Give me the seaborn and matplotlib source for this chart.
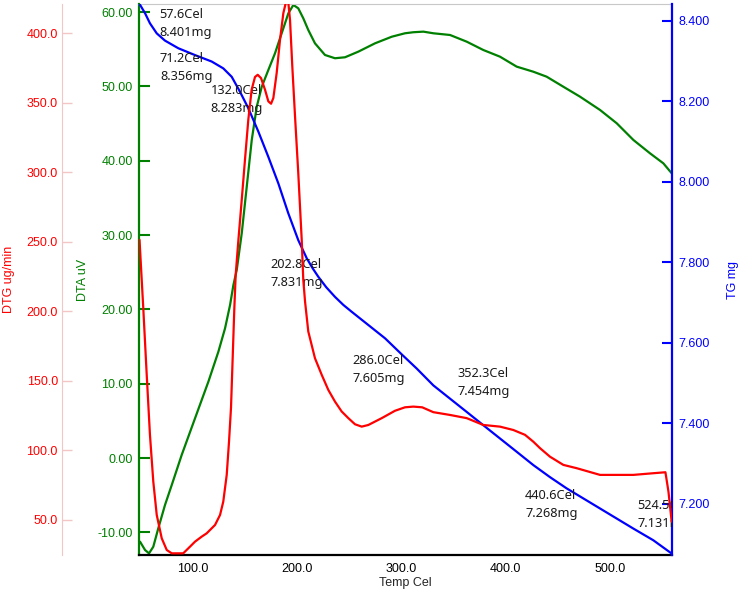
import matplotlib
matplotlib.use("Agg")
import matplotlib.pyplot as plt
from matplotlib.ticker import FormatStrFormatter, FixedLocator
import pandas as pd
import seaborn as sns

# DTA trace (uV)
dta_temp = [49.5, 54.3, 58.1, 62.2, 67.0, 73.4, 79.9, 89.4, 102.2, 115.0,
            124.6, 131.0, 135.8, 139.0, 142.2, 147.0, 151.8, 156.6, 161.4,
            166.2, 172.5, 178.9, 185.3, 191.7, 196.5, 201.2, 206.0, 210.8,
            217.2, 226.8, 236.4, 246.0, 258.8, 274.8, 290.9, 303.5, 311.5,
            321.1, 330.7, 346.7, 362.7, 378.6, 394.6, 410.6, 426.5, 439.3,
            455.3, 471.3, 490.5, 506.5, 522.5, 538.4, 551.2, 559.2]
dta_uv = [-11.26, -12.38, -12.83, -11.94, -9.46, -6.33, -3.63, 0.40, 5.34, 10.27,
          14.31, 17.46, 20.59, 23.28, 25.30, 30.24, 36.52, 42.80, 47.28,
          49.97, 52.22, 54.47, 57.16, 59.85, 60.97, 60.52, 59.18, 57.60,
          55.81, 54.24, 53.80, 53.93, 54.69, 55.81, 56.70, 57.16, 57.30,
          57.38, 57.16, 56.93, 56.03, 54.91, 54.01, 52.67, 51.99, 51.32,
          49.97, 48.63, 46.84, 45.05, 42.80, 41.01, 39.66, 38.32]

# TG trace (mg)
tg_temp = [49.5, 54.3, 59.0, 65.5, 73.4, 86.2, 102.2, 118.2, 129.3, 137.4,
           145.3, 153.3, 162.9, 172.5, 182.1, 191.6, 201.2, 209.3, 215.0,
           220.4, 228.0, 236.4, 244.4, 252.4, 268.4, 284.4, 300.0, 314.7,
           330.7, 346.7, 362.7, 378.6, 394.6, 410.6, 426.5, 442.5, 458.5,
           474.5, 490.5, 506.5, 522.5, 541.6, 559.2]
tg_mg = [8.440, 8.419, 8.394, 8.369, 8.351, 8.332, 8.315, 8.299, 8.282, 8.261,
         8.224, 8.183, 8.125, 8.062, 7.996, 7.922, 7.855, 7.810, 7.785,
         7.764, 7.738, 7.714, 7.694, 7.677, 7.644, 7.611, 7.572, 7.536,
         7.494, 7.461, 7.428, 7.395, 7.362, 7.329, 7.296, 7.266, 7.238,
         7.213, 7.188, 7.163, 7.138, 7.109, 7.076]

# DTG trace (ug/min)
dtg_temp = [49.0, 52.6, 55.9, 59.0, 62.2, 65.5, 70.3, 75.1, 79.9, 90.9,
            97.4, 102.2, 108.6, 113.4, 121.4, 126.2, 129.3, 132.6, 134.8,
            136.7, 138.3, 139.9, 141.2, 143.8, 147.0, 150.1, 153.3, 156.5,
            159.7, 162.3, 165.5, 169.3, 172.5, 175.1, 177.3, 180.5, 183.7,
            186.9, 189.2, 189.9, 191.7, 193.3, 195.5, 198.1, 201.2, 204.5,
            206.0, 207.7, 210.8, 217.2, 223.7, 230.0, 236.4, 242.8, 249.2,
            255.6, 262.0, 268.4, 281.2, 293.9, 303.5, 311.5, 320.0, 330.7,
            346.7, 362.7, 378.6, 394.6, 407.3, 418.6, 426.5, 433.0, 442.5,
            455.3, 468.2, 490.5, 522.4, 541.6, 553.2, 556.1, 559.2]
dtg_val = [251.4, 202.3, 154.3, 111.2, 77.6, 53.6, 36.8, 28.4, 26.0, 26.0,
           30.8, 34.4, 38.0, 40.4, 46.4, 53.6, 63.2, 82.4, 106.3,
           130.6, 166.3, 202.3, 226.3, 251.4, 280.2, 309.0, 337.8, 359.4,
           368.5, 370.1, 367.7, 359.4, 351.0, 349.3, 353.4, 371.4, 395.3,
           414.5, 421.7, 424.0, 421.7, 409.4, 375.8, 340.1, 299.4, 251.4,
           222.7, 207.0, 185.5, 166.3, 154.3, 143.5, 135.1, 128.0, 123.2,
           118.8, 117.1, 118.3, 123.2, 128.5, 131.0, 131.5, 131.0, 127.5,
           125.5, 123.2, 118.3, 117.1, 114.7, 111.2, 106.3, 101.6, 95.5,
           89.6, 87.2, 82.4, 82.4, 83.6, 84.3, 70.4, 48.8]

# labelled TG points
mark_temp = [57.6, 71.2, 132.0, 202.8, 286.0, 352.3, 440.6, 524.5]
mark_mg = [8.401, 8.356, 8.283, 7.831, 7.605, 7.454, 7.268, 7.131]
# label offsets from the point (points)
mark_off = [(8, -2), (-2, -21), (-11, -23), (-21, -17), (-25, -21),
            (1, 13.5), (-16.5, -20), (1.5, 12)]

x_ticks = [100, 200, 300, 400, 500]
dta_ticks = [-10, 0, 10, 20, 30, 40, 50, 60]
tg_ticks = [7.2, 7.4, 7.6, 7.8, 8.0, 8.2, 8.4]
dtg_ticks = [50, 100, 150, 200, 250, 300, 350, 400]

GREEN = "#008000"
BLUE = "#0000ff"
RED = "#ff0000"
PINK = "#f2c6c6"

sns.set_style("white")
plt.rcParams["font.family"] = ["Liberation Sans", "DejaVu Sans"]
plt.rcParams["font.size"] = 9

fig = plt.figure(figsize=(7.39, 5.93), dpi=100)
ax = fig.add_axes([139 / 739, 1 - 555 / 593, 533 / 739, 551 / 593])
ax_tg = ax.twinx()
ax_dtg = ax.twinx()

dta = pd.DataFrame({"temp": dta_temp, "uv": dta_uv})
tg = pd.DataFrame({"temp": tg_temp, "mg": tg_mg})
dtg = pd.DataFrame({"temp": dtg_temp, "val": dtg_val})

sns.lineplot(data=dta, x="temp", y="uv", ax=ax, color=GREEN, linewidth=1.6,
             sort=False, estimator=None)
sns.lineplot(data=dtg, x="temp", y="val", ax=ax_dtg, color=RED, linewidth=1.6,
             sort=False, estimator=None)
sns.lineplot(data=tg, x="temp", y="mg", ax=ax_tg, color=BLUE, linewidth=1.6,
             sort=False, estimator=None)

ax.set_xlim(48.5, 559.5)
ax.set_ylim(-13.05, 61.1)
ax_tg.set_ylim(7.0724, 8.442)
ax_dtg.set_ylim(24.8, 421.0)

# x axis
ax.xaxis.set_major_locator(FixedLocator(x_ticks))
ax.xaxis.set_major_formatter(FormatStrFormatter("%.1f"))
ax.tick_params(axis="x", direction="in", length=7, width=1.5, color="black",
               labelcolor="black", pad=5.5, labelsize=9)
ax.set_xlabel("Temp Cel", labelpad=2, fontsize=9)

# DTA axis
ax.yaxis.set_major_locator(FixedLocator(dta_ticks))
ax.yaxis.set_major_formatter(FormatStrFormatter("%.2f"))
ax.tick_params(axis="y", direction="in", length=8, width=1.5, color=GREEN,
               labelcolor=GREEN, pad=4.5, labelsize=9)
ax.set_ylabel("DTA uV", color=GREEN, fontsize=9)
ax.yaxis.set_label_coords(-0.093, 0.5)

# TG axis
ax_tg.yaxis.set_major_locator(FixedLocator(tg_ticks))
ax_tg.yaxis.set_major_formatter(FormatStrFormatter("%.3f"))
ax_tg.tick_params(axis="y", direction="in", length=7, width=1.5, color=BLUE,
                  labelcolor=BLUE, pad=4.5, labelsize=9)
ax_tg.set_ylabel("TG mg", color=BLUE, fontsize=9)
ax_tg.yaxis.set_label_coords(1.1032, 0.5)

# DTG axis, offset to the far left
ax_dtg.yaxis.set_label_position("left")
ax_dtg.yaxis.set_ticks_position("left")
ax_dtg.spines["left"].set_position(("outward", 77 * 0.72))
ax_dtg.yaxis.set_major_locator(FixedLocator(dtg_ticks))
ax_dtg.yaxis.set_major_formatter(FormatStrFormatter("%.1f"))
ax_dtg.tick_params(axis="y", direction="in", length=7, width=1, color=PINK,
                   labelcolor=RED, pad=3, labelsize=9)
ax_dtg.set_ylabel("DTG ug/min", color=RED, fontsize=9)
ax_dtg.yaxis.set_label_coords(-0.2326, 0.5)

for a in (ax, ax_tg, ax_dtg):
    for s in a.spines.values():
        s.set_visible(False)
ax_tg.set_xlabel("")
ax_dtg.set_xlabel("")

ax.spines["left"].set_visible(True)
ax.spines["left"].set_color(GREEN)
ax.spines["left"].set_linewidth(1.6)
ax.spines["bottom"].set_visible(True)
ax.spines["bottom"].set_color("black")
ax.spines["bottom"].set_linewidth(1.6)
ax.spines["top"].set_visible(True)
ax.spines["top"].set_color("#c8c8c8")
ax.spines["top"].set_linewidth(0.8)
ax_tg.spines["right"].set_visible(True)
ax_tg.spines["right"].set_color(BLUE)
ax_tg.spines["right"].set_linewidth(1.6)
ax_dtg.spines["left"].set_visible(True)
ax_dtg.spines["left"].set_color(PINK)
ax_dtg.spines["left"].set_linewidth(0.8)

for t, m, off in zip(mark_temp, mark_mg, mark_off):
    ax_tg.annotate(f"{t:.1f}Cel\n{m:.3f}mg", xy=(t, m), xytext=off,
                   textcoords="offset points", ha="left", va="center",
                   fontsize=9.2, family=["Noto Sans", "DejaVu Sans"],
                   color="#1a1a1a", linespacing=1.5, clip_on=True)

fig.savefig("out.png", dpi=100)
